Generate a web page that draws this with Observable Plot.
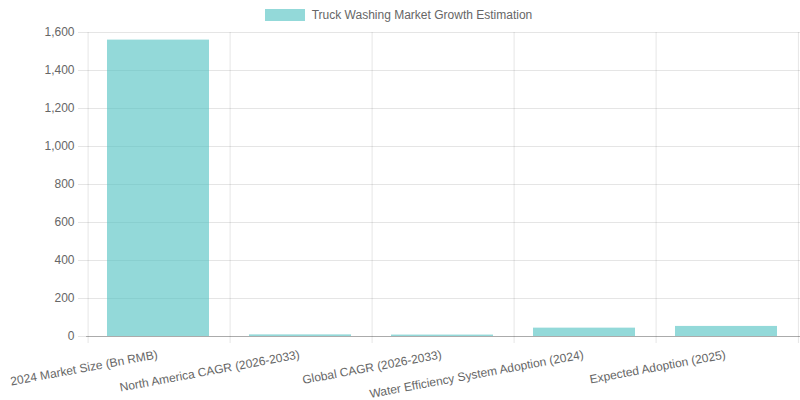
<!DOCTYPE html>
<html>
<head>
<meta charset="utf-8">
<script src="https://cdn.jsdelivr.net/npm/d3@7"></script>
<script src="https://cdn.jsdelivr.net/npm/@observablehq/plot@0.6"></script>
<style>
  body { margin: 0; background: #fff; font-family: "Liberation Sans", Arial, sans-serif; }
  #legend { height: 26px; display: flex; justify-content: center; align-items: flex-end; font-size: 12px; color: #666; }
  #legend .sw { width: 40px; height: 12px; background: rgba(75,192,192,0.6); margin-right: 7px; }
  #legend .item { display: flex; align-items: center; height: 16px; margin-bottom: 3px; position: relative; left: -1.5px; }
  #chart svg { overflow: visible; }
</style>
</head>
<body>
<div id="legend"><div class="item"><div class="sw"></div><span>Truck Washing Market Growth Estimation</span></div></div>
<div id="chart"></div>
<script>
const seriesName = "Truck Washing Market Growth Estimation";
const categories = [
  "2024 Market Size (Bn RMB)",
  "North America CAGR (2026-2033)",
  "Global CAGR (2026-2033)",
  "Water Efficiency System Adoption (2024)",
  "Expected Adoption (2025)"
];
const values = [1560, 8.5, 7.5, 44, 53];
const yTicks = [0, 200, 400, 600, 800, 1000, 1200, 1400, 1600];

const data = categories.map((c, i) => ({category: c, value: values[i]}));

const width = 800, height = 374;
const marginLeft = 86, marginRight = 0, marginTop = 6, marginBottom = 64;
const bw = (width - marginLeft - marginRight) / categories.length;

const chart = Plot.plot({
  width, height, marginLeft, marginRight, marginTop, marginBottom,
  style: {fontFamily: "'Liberation Sans', Arial, sans-serif", fontSize: "12px", color: "#666", background: "#fff"},
  x: {domain: categories, padding: 0, label: null},
  y: {domain: [0, 1600], label: null},
  marks: [
    Plot.ruleY(yTicks, {y: d => d, stroke: "rgba(0,0,0,0.1)", strokeOpacity: 1, insetLeft: -8}),
    Plot.ruleX(categories, {x: d => d, dx: -bw / 2, stroke: "rgba(0,0,0,0.1)", strokeOpacity: 1, insetBottom: -7}),
    Plot.ruleX([categories[categories.length - 1]], {x: d => d, dx: bw / 2 - 0.5, stroke: "rgba(0,0,0,0.1)", strokeOpacity: 1, insetBottom: -7}),
    Plot.barY(data, {x: "category", y: "value", fill: "rgba(75,192,192,0.6)", insetLeft: bw * 0.14 - 1, insetRight: bw * 0.14 + 1}),
    Plot.ruleY([0], {stroke: "rgba(0,0,0,0.25)", strokeOpacity: 1}),
    Plot.axisY({ticks: yTicks, tickSize: 0, tickPadding: 12, tickFormat: d3.format(","), fill: "#666", fontSize: 12, label: null}),
    Plot.axisX({tickSize: 0, tickRotate: -10.5, tickPadding: 10, dy: 8, dx: -2, fill: "#666", fontSize: 12, label: null})
  ]
});
document.getElementById("chart").appendChild(chart);
</script>
</body>
</html>
